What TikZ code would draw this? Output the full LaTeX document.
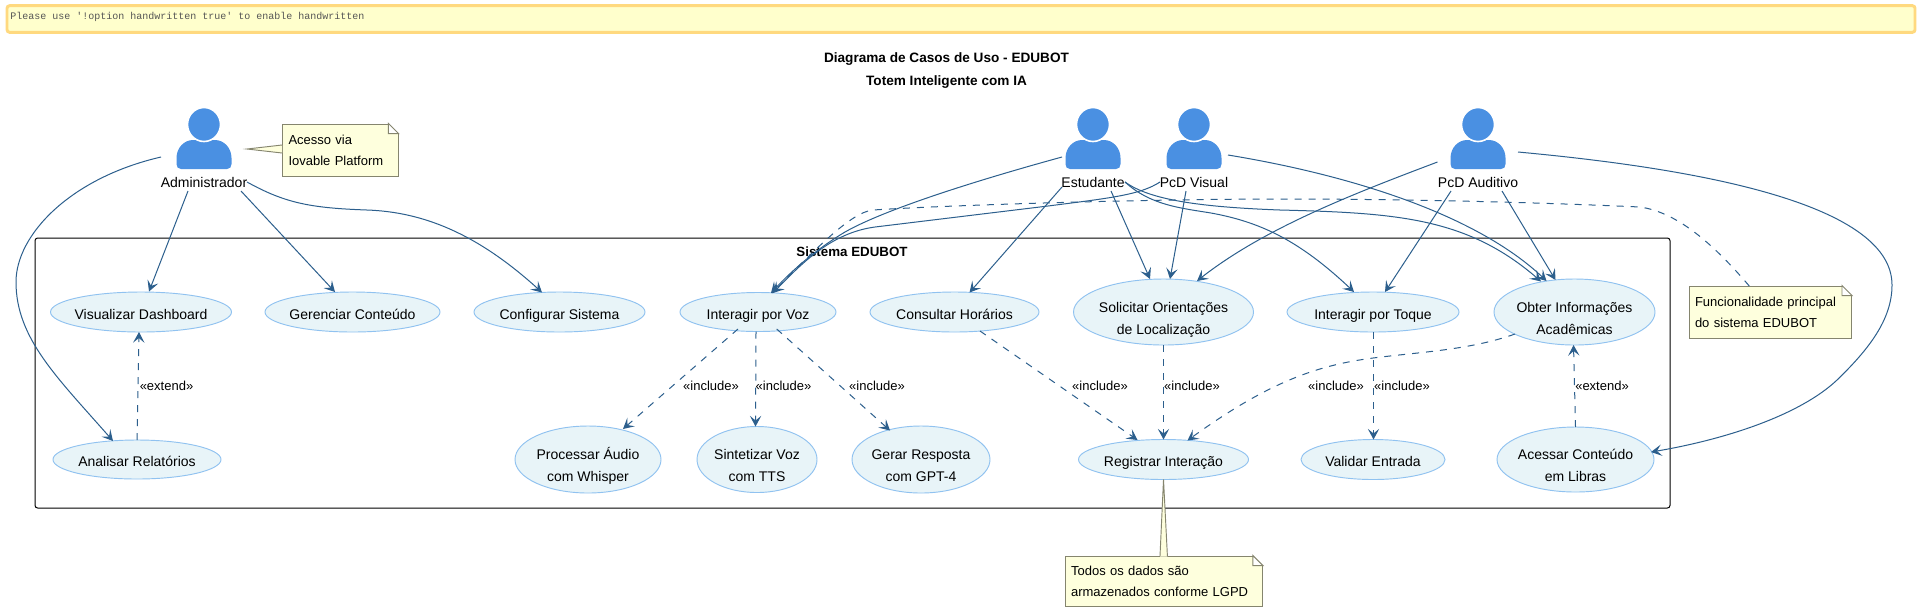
\documentclass[tikz,border=0pt]{standalone}
\usepackage{fontspec}
\setmainfont{Liberation Sans}
\newfontfamily\bannerfont{Liberation Mono}
\usetikzlibrary{shapes.geometric,arrows.meta,bending}
\definecolor{linecol}{HTML}{2C5F8D}
\definecolor{ucfill}{HTML}{E8F4F8}
\definecolor{ucedge}{HTML}{90C2F0}
\definecolor{actorcol}{HTML}{4A90E2}
\definecolor{notefill}{HTML}{FEFFDD}
\definecolor{noteedge}{HTML}{85856E}
\definecolor{bannerfill}{HTML}{FFFFCC}
\definecolor{banneredge}{HTML}{FFD97F}
\definecolor{bannertext}{HTML}{555555}
\newcommand{\actoricon}[1]{%
  \begin{scope}[shift={(#1,0)}]
    \fill[actorcol] (-23,169) .. controls (-26,169) and (-27.5,167) .. (-27.5,164) -- (-27.5,158)
      .. controls (-27.5,148) and (-20,140) .. (-11,140) -- (11,140)
      .. controls (20,140) and (27.5,148) .. (27.5,158) -- (27.5,164)
      .. controls (27.5,167) and (26,169) .. (23,169) -- cycle;
    \draw[white,line width=1.2pt,fill=actorcol] (0,124.5) ellipse [x radius=16.5,y radius=17];
  \end{scope}}
\newcommand{\ucone}[1]{\raisebox{-5.4pt}[0pt][0pt]{#1}}
\newcommand{\uctwo}[2]{\raisebox{0pt}[0pt][0pt]{\begin{tabular}[t]{@{}c@{}}#1\\#2\end{tabular}}}
\tikzset{
  uc/.style 2 args={ellipse,draw=ucedge,fill=ucfill,line width=0.7pt,inner sep=-20pt,
    minimum width={#1*0.75pt},minimum height={#2*0.75pt},
    font=\fontsize{10.5}{16.8}\selectfont},
  actorlabel/.style={inner sep=0pt,font=\fontsize{10.5}{12}\selectfont},
  rel/.style={draw=linecol,line width=0.75pt,-{Stealth[length=8pt,width=8.5pt,inset=3.5pt,flex=1]}},
  dep/.style={rel,dash pattern=on 5.25pt off 5.25pt},
  notelink/.style={draw=linecol,line width=0.75pt,dash pattern=on 5.25pt off 5.25pt},
  stereo/.style={inner sep=0pt,font=\fontsize{9.75}{12}\selectfont},
  notebox/.style={rectangle,fill=notefill,draw=noteedge,line width=0.7pt,inner xsep=4.5pt,inner ysep=0pt,
    text width=#1,align=left,font=\fontsize{9.75}{15.75}\selectfont},
  titletext/.style={inner sep=0pt,font=\fontsize{10.2}{12}\selectfont\bfseries},
  systext/.style={inner sep=0pt,font=\fontsize{10}{12}\selectfont\bfseries},
}
\begin{document}
\begin{tikzpicture}[x=0.75pt,y=-0.75pt]
\useasboundingbox (0,0) rectangle (1922,612);
\fill[white] (0,0) rectangle (1922,612);
% banner
\node[draw=banneredge,fill=bannerfill,line width=2.2pt,rounded corners=2pt,minimum width=1431pt,minimum height=20pt,inner sep=0pt] (banner) at (961,19) {};
\node[anchor=west,inner sep=0pt,text=bannertext,font=\bannerfont\fontsize{7.5}{9}\selectfont] (bannertxt) at (10,17) {Please use '!option handwritten true' to enable handwritten};
% titles
\node[titletext] (title1) at (946.5,59) {Diagrama de Casos de Uso - EDUBOT};
\node[titletext] (title2) at (946.5,82) {Totem Inteligente com IA};
% system boundary
\node[draw=black,line width=0.75pt,rounded corners=2pt,minimum width=1226.25pt,minimum height=202.5pt,inner sep=0pt] (sys) at (852.5,373) {};
\node[systext] (systitle) at (852,252) {Sistema EDUBOT};
% actors
\actoricon{204}\actoricon{1093}\actoricon{1194}\actoricon{1478}
\node[actorlabel] (adm) at (204,182) {Administrador};
\node[actorlabel] (est) at (1093,182) {Estudante};
\node[actorlabel] (pcv) at (1194,182) {PcD Visual};
\node[actorlabel] (pca) at (1478,182) {PcD Auditivo};
% use cases
\node[uc={181}{40}] (vis) at (141,312) {\ucone{Visualizar Dashboard}};
\node[uc={175}{40}] (ger) at (352.5,312) {\ucone{Gerenciar Conteúdo}};
\node[uc={171}{40}] (cfg) at (559.5,312) {\ucone{Configurar Sistema}};
\node[uc={156}{39}] (voz) at (758,312) {\ucone{Interagir por Voz}};
\node[uc={169}{40}] (con) at (954.5,312) {\ucone{Consultar Horários}};
\node[uc={180}{66}] (sol) at (1163.5,312) {\uctwo{Solicitar Orientações}{de Localização}};
\node[uc={172}{40}] (toq) at (1373,312) {\ucone{Interagir por Toque}};
\node[uc={161}{66}] (obt) at (1574.5,312) {\uctwo{Obter Informações}{Acadêmicas}};
\node[uc={168}{39}] (ana) at (137,459.5) {\ucone{Analisar Relatórios}};
\node[uc={146}{67}] (pro) at (588,459.5) {\uctwo{Processar Áudio}{com Whisper}};
\node[uc={120}{66}] (sin) at (757,459.5) {\uctwo{Sintetizar Voz}{com TTS}};
\node[uc={138}{67}] (gpt) at (921,459.5) {\uctwo{Gerar Resposta}{com GPT-4}};
\node[uc={170}{40}] (reg) at (1163.5,459.5) {\ucone{Registrar Interação}};
\node[uc={144}{40}] (val) at (1373,459.5) {\ucone{Validar Entrada}};
\node[uc={157}{65}] (ace) at (1575.5,459.5) {\uctwo{Acessar Conteúdo}{em Libras}};
% notes
\node[notebox=77.6pt,minimum height=39pt] (nadm) at (340.25,150) {Acesso via\\Iovable Platform};
\node[notebox=112.9pt,minimum height=39pt] (nfun) at (1770.25,312) {Funcionalidade principal\\do sistema EDUBOT};
\node[notebox=139pt,minimum height=37.5pt] (nreg) at (1163.75,581) {Todos os dados são\\armazenados conforme LGPD};
% note folds and tails
\foreach \n in {nadm,nfun,nreg}{
  \fill[white] ([xshift=-7.5pt,yshift=1pt]\n.north east) rectangle ([xshift=1pt,yshift=-7.5pt]\n.north east);
  \draw[noteedge,line width=0.7pt,line join=miter] ([xshift=-7.5pt]\n.north east) -- ([xshift=-7.5pt,yshift=-7.5pt]\n.north east) -- ([yshift=-7.5pt]\n.north east) -- cycle;
}
\fill[notefill] ([shift={(43,-33)}]adm.center) -- (nadm.west |- 0,145) -- (nadm.west |- 0,153) -- cycle;
\draw[noteedge,line width=0.7pt] (nadm.west |- 0,145) -- ([shift={(43,-33)}]adm.center) -- (nadm.west |- 0,153);
\fill[notefill] ([shift={(0,20)}]reg.center) -- (1167.4,556.5) -- (1160,556.5) -- cycle;
\draw[noteedge,line width=0.7pt] (1160,556) -- ([shift={(0,20)}]reg.center) -- (1167.4,556);
% actor associations
\draw[rel] ([shift={(-43,-25)}]adm.center) .. controls (70,178) and (16,235) .. (16,282) .. controls (16,340) and (60,380) .. ([shift={(-24,-18.5)}]ana.center);
\draw[rel] ([shift={(-16,9)}]adm.center) -- ([shift={(8,-20.5)}]vis.center);
\draw[rel] ([shift={(37,9)}]adm.center) -- ([shift={(-17.5,-20)}]ger.center);
\draw[rel] ([shift={(43,0)}]adm.center) .. controls (285,203) and (310,208) .. (367,210) .. controls (425,212) and (480,235) .. ([shift={(-17.5,-19.5)}]cfg.center);
\draw[rel] ([shift={(-31,-25)}]est.center) .. controls (960,185) and (880,212) .. (845,232) .. controls (815,250) and (790,272) .. ([shift={(13,-19)}]voz.center);
\draw[rel] ([shift={(-34,0)}]pcv.center) .. controls (1140,195) and (1110,198) .. (1048,206) -- (875,227) .. controls (830,233) and (800,265) .. ([shift={(15,-19)}]voz.center);
\draw[notelink] ([shift={(-21,-26)}]nfun.center) .. controls (1710,240) and (1675,212) .. (1640,207) .. controls (1530,202) and (1400,199) .. (1280,199) .. controls (1150,199) and (950,205) .. (873,210) .. controls (850,212) and (810,255) .. ([shift={(14,-19)}]voz.center);
\draw[rel] ([shift={(-31,5)}]est.center) -- ([shift={(15,-19.5)}]con.center);
\draw[rel] ([shift={(18,9)}]est.center) -- ([shift={(-13.5,-33)}]sol.center);
\draw[rel] ([shift={(-8,9)}]pcv.center) -- ([shift={(6.5,-33)}]sol.center);
\draw[rel] ([shift={(-40.5,-20)}]pca.center) .. controls (1350,195) and (1260,230) .. ([shift={(33.5,-31)}]sol.center);
\draw[rel] ([shift={(32,0)}]est.center) .. controls (1150,205) and (1180,208) .. (1211,213) .. controls (1260,222) and (1300,240) .. ([shift={(-19,-20)}]toq.center);
\draw[rel] ([shift={(32,0)}]est.center) .. controls (1150,200) and (1200,207) .. (1280,210) .. controls (1400,213) and (1470,218) .. ([shift={(-33.5,-30.5)}]obt.center);
\draw[rel] ([shift={(34,-27)}]pcv.center) .. controls (1350,175) and (1480,215) .. ([shift={(-28,-31)}]obt.center);
\draw[rel] ([shift={(-27,9)}]pca.center) -- ([shift={(12,-20)}]toq.center);
\draw[rel] ([shift={(24,9)}]pca.center) -- ([shift={(-19,-32)}]obt.center);
\draw[rel] ([shift={(40,-30)}]pca.center) .. controls (1680,167) and (1892,200) .. (1892,285) .. controls (1892,320) and (1868,350) .. (1837,380) .. controls (1800,415) and (1725,440) .. ([shift={(75.5,-7.5)}]ace.center);
% include / extend
\draw[dep] ([shift={(0,-19.5)}]ana.center) -- ([shift={(-2,20)}]vis.center);
\draw[dep] ([shift={(-20,17)}]voz.center) -- ([shift={(35,-30.5)}]pro.center);
\draw[dep] ([shift={(-2,19.5)}]voz.center) -- ([shift={(-1.5,-33)}]sin.center);
\draw[dep] ([shift={(18.7,17)}]voz.center) -- ([shift={(-31,-29)}]gpt.center);
\draw[dep] ([shift={(25.5,19)}]con.center) -- ([shift={(-26,-19.5)}]reg.center);
\draw[dep] ([shift={(0,33)}]sol.center) -- ([shift={(0,-20)}]reg.center);
\draw[dep] ([shift={(-59.5,22)}]obt.center) .. controls (1470,350) and (1420,352) .. (1373,358) .. controls (1320,365) and (1270,380) .. ([shift={(24,-19)}]reg.center);
\draw[dep] ([shift={(0.5,20)}]toq.center) -- ([shift={(0.5,-20)}]val.center);
\draw[dep] ([shift={(0,-32.5)}]ace.center) -- ([shift={(-1,33)}]obt.center);
% stereotypes
\node[stereo] (s1) at (166.5,386) {«extend»};
\node[stereo] (s2) at (711,386) {«include»};
\node[stereo] (s3) at (783.5,386) {«include»};
\node[stereo] (s4) at (877,386) {«include»};
\node[stereo] (s5) at (1100,386) {«include»};
\node[stereo] (s6) at (1192,386) {«include»};
\node[stereo] (s7) at (1336,386) {«include»};
\node[stereo] (s8) at (1402,386) {«include»};
\node[stereo] (s9) at (1602,386) {«extend»};
\end{tikzpicture}
\end{document}
